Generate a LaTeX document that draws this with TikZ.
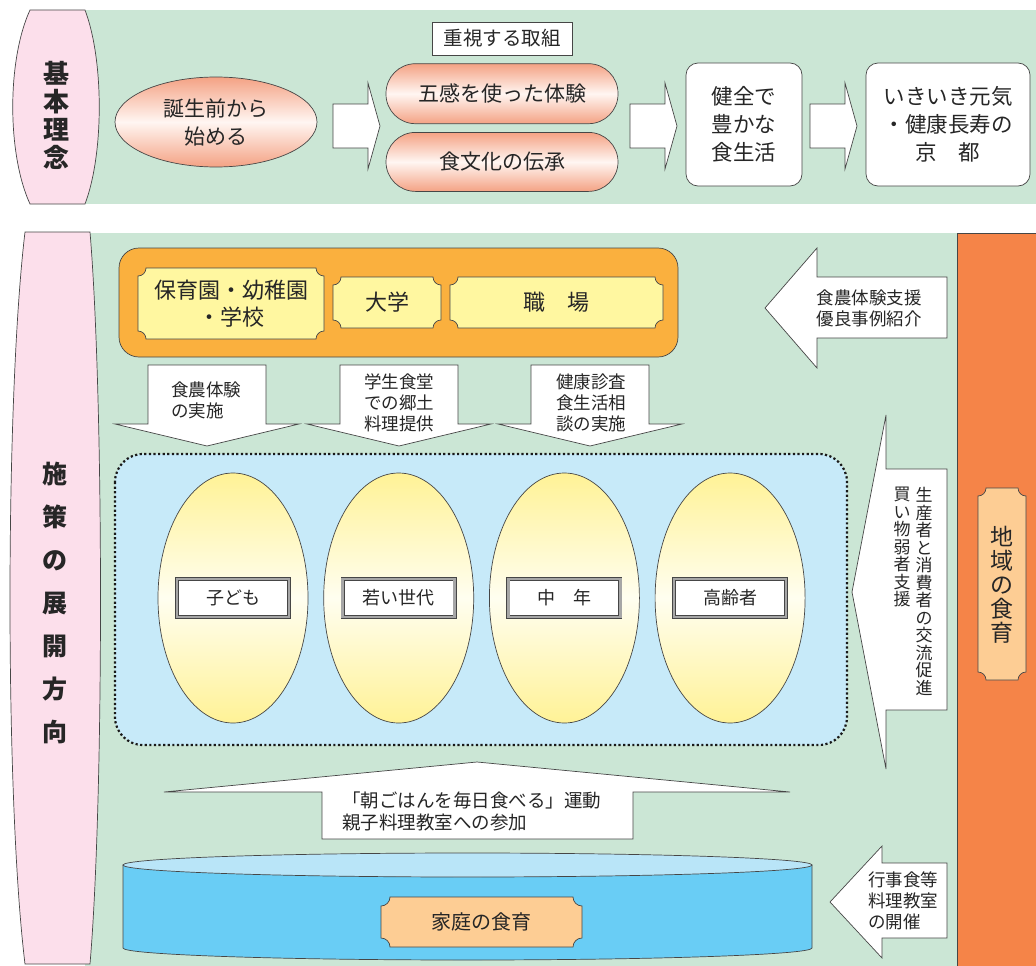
\documentclass[tikz,border=0pt]{standalone}
\usepackage{fontspec}
\setmainfont{Noto Sans CJK JP}
\usetikzlibrary{calc, positioning, shapes.geometric}

\definecolor{mint}{RGB}{203,230,213}
\definecolor{pinkbg}{RGB}{252,223,235}
\definecolor{salmonc}{RGB}{244,162,132}
\definecolor{salmonw}{RGB}{255,246,242}
\definecolor{schoolc}{RGB}{250,176,62}
\definecolor{plaquey}{RGB}{255,247,160}
\definecolor{plaqueo}{RGB}{253,205,148}
\definecolor{regionc}{RGB}{245,132,72}
\definecolor{skyc}{RGB}{199,234,249}
\definecolor{eggc}{RGB}{255,242,150}
\definecolor{eggw}{RGB}{255,254,240}
\definecolor{cylc}{RGB}{105,205,245}
\definecolor{cyltop}{RGB}{185,229,248}
\definecolor{linec}{RGB}{70,70,70}

% frame with concave corners: [style]{x1}{y1}{x2}{y2}{r}
\newcommand{\plaqueframe}[6][]{%
  \draw[#1] ({#2+#6},#3) -- ({#4-#6},#3)
    .. controls ({#4-#6},{#3+0.55*#6}) and ({#4-0.55*#6},{#3+#6}) .. (#4,{#3+#6})
    -- (#4,{#5-#6})
    .. controls ({#4-0.55*#6},{#5-#6}) and ({#4-#6},{#5-0.55*#6}) .. ({#4-#6},#5)
    -- ({#2+#6},#5)
    .. controls ({#2+#6},{#5-0.55*#6}) and ({#2+0.55*#6},{#5-#6}) .. (#2,{#5-#6})
    -- (#2,{#3+#6})
    .. controls ({#2+0.55*#6},{#3+#6}) and ({#2+#6},{#3+0.55*#6}) .. ({#2+#6},#3)
    -- cycle;}

\begin{document}
\begin{tikzpicture}[
      x=1pt, y=-1pt,
      line width=0.7pt,
      text=black!85,
      panel/.style = {fill=mint},
      pillar/.style = {fill=pinkbg, draw=linec},
      title/.style = {align=center, font=\bfseries\fontsize{26}{28}\selectfont},
      salmon/.style = {
          draw=linec,
          top color=salmonc, bottom color=salmonc, middle color=salmonw,
          font=\fontsize{21}{28}\selectfont,
          align=center,
          inner sep=0pt,
        },
      whitebox/.style = {
          draw=linec, fill=white,
          rounded corners=12pt,
          align=center,
          font=\fontsize{21.5}{28}\selectfont,
          minimum height=123pt,
          inner sep=0pt,
        },
      barrow/.style = {draw=linec, fill=white},
      note/.style = {align=left, font=\fontsize{17.5}{21}\selectfont, inner sep=0pt},
      vnote/.style = {align=center, font=\fontsize{17}{17.5}\selectfont, inner sep=0pt, anchor=north},
      plaque/.style = {draw=linec, fill=#1},
      ptext/.style = {align=center, font=\fontsize{22}{27}\selectfont},
      egg/.style = {
          ellipse, draw=linec,
          top color=eggc, bottom color=eggc, middle color=eggw,
          minimum width=150pt, minimum height=250pt,
        },
      agebox/.style = {
          draw=linec, double=black!35, double distance=2.5pt,
          fill=white,
          minimum width=112pt, minimum height=38pt,
          font=\fontsize{18}{20}\selectfont,
        },
    ]

    \useasboundingbox (0,0) rectangle (1036,966);

    % top panel
    \fill[panel] (85,10) rectangle (1036,204);
    \draw[pillar] (30,10) -- (85,10) .. controls (104,60) and (104,154) .. (85,204)
      -- (30,204) .. controls (7,154) and (7,60) .. (30,10) -- cycle;
    \node[title] (kihon) at (56,115) {基\\本\\理\\念};

    \node[salmon, ellipse, minimum width=202pt, minimum height=90pt] (tanjo) at (216,122)
      {誕生前から\\始める};
    \node[draw=linec, fill=white, minimum width=140pt, minimum height=33pt,
      font=\fontsize{19.5}{22}\selectfont] (jushi) at (502,38.5) {重視する取組};
    \node[salmon, rounded corners=29.5pt, minimum width=232pt, minimum height=60pt,
      below=8pt of jushi] (gokan) {五感を使った体験};
    \node[salmon, rounded corners=29.5pt, minimum width=232pt, minimum height=59pt,
      below=8pt of gokan] (bunka) {食文化の伝承};
    \node[whitebox, minimum width=116pt] (kenzen) at (744,124.5) {健全で\\豊かな\\食生活};
    \node[whitebox, minimum width=164pt] (kyoto) at (948,124.5) {いきいき元気\\・健康長寿の\\京　都};

    \foreach \x in {333, 630, 810} {
      \draw[barrow] (\x,104) -- ({\x+35},104) -- ({\x+35},83) -- ({\x+47},126)
        -- ({\x+35},169) -- ({\x+35},148) -- (\x,148) -- cycle;
    }

    % bottom panel
    \fill[panel] (85,233) rectangle (957,966);
    \draw[fill=regionc, draw=linec] (957,233) rectangle (1036,966);
    \draw[pillar] (25,232) -- (90,232) .. controls (104,400) and (104,800) .. (90,964)
      -- (25,964) .. controls (5,800) and (5,400) .. (25,232) -- cycle;
    \node[title, font=\bfseries\fontsize{25}{43}\selectfont] (shisaku) at (55,603)
      {施\\策\\の\\展\\開\\方\\向};

    \draw[draw=linec, fill=schoolc, rounded corners=20pt] (119,248) rectangle (678,357);
    \plaqueframe[plaque=plaquey]{138}{268}{324}{339}{8}
    \plaqueframe[plaque=plaquey]{333}{277}{441}{328}{8}
    \plaqueframe[plaque=plaquey]{450}{277}{663}{328}{8}
    \node[ptext] (hoiku) at (231,303.5) {保育園・幼稚園\\・学校};
    \node[ptext] (daigaku) at (387,302.5) {大学};
    \node[ptext] (shokuba) at (556.5,302.5) {職　場};

    \foreach \x in {207, 399, 590} {
      \draw[barrow] ({\x-59},365) -- ({\x+59},365) -- ({\x+59},424) -- ({\x+92},424)
        -- (\x,446) -- ({\x-92},424) -- ({\x-59},424) -- cycle;
    }
    \node[note] (tainou) at (206,400) {食農体験\\の実施};
    \node[note] (gakusei) at (399,403) {学生食堂\\での郷土\\料理提供};
    \node[note] (kenshin) at (591,403) {健康診査\\食生活相\\談の実施};

    \draw[barrow] (947,277) -- (817,277) -- (817,248) -- (765,308) -- (817,368)
      -- (817,338) -- (947,338) -- cycle;
    \node[note] (shien) at (869,308) {食農体験支援\\優良事例紹介};

    % generations
    \draw[fill=skyc, draw=black!90, line width=2.2pt, dash pattern=on 2.2pt off 2.4pt,
      rounded corners=28pt] (115,454) rectangle (847,745);
    \node[egg] (kodomo) at (233,598) {};
    \node[egg, right=15pt of kodomo] (wakai) {};
    \node[egg, right=15pt of wakai] (chunen) {};
    \node[egg, right=15pt of chunen] (koreisha) {};
    \foreach \n/\t in {kodomo/子ども, wakai/若い世代, chunen/中　年, koreisha/高齢者}
      \node[agebox] (\n-t) at (\n) {\t};

    \draw[barrow] (947,469) -- (886,469) -- (886,415) -- (852,592) -- (886,769)
      -- (886,710) -- (947,710) -- cycle;
    \node[vnote] (kouryu) at (924,487) {生\\産\\者\\と\\消\\費\\者\\の\\交\\流\\促\\進};
    \node[vnote] (kaimono) at (902,487) {買\\い\\物\\弱\\者\\支\\援};

    \plaqueframe[plaque=plaqueo]{978}{488}{1026}{680}{8}
    \node[align=center, font=\fontsize{23}{24}\selectfont] (chiiki) at (1002,585)
      {地\\域\\の\\食\\育};

    % home
    \draw[barrow] (322,839) -- (322,792) -- (164,792) -- (477,762) -- (790,792)
      -- (633,792) -- (633,839) -- cycle;
    \node[note, anchor=west, font=\fontsize{18.5}{22}\selectfont] (asagohan) at (342,811)
      {「朝ごはんを毎日食べる」運動\\親子料理教室への参加};

    \draw[draw=linec, fill=cylc] (123,865) -- (123,948)
      .. controls (123,954.6) and (277.2,960) .. (467.5,960)
      .. controls (657.8,960) and (812,954.6) .. (812,948) -- (812,865) -- cycle;
    \draw[draw=linec, fill=cyltop] (467.5,865) ellipse [x radius=344.5, y radius=12];
    \plaqueframe[plaque=plaqueo]{381}{897}{582}{947}{9}
    \node[font=\fontsize{20}{24}\selectfont] (katei) at (481.5,922) {家庭の食育};

    \draw[barrow] (947,863) -- (882,863) -- (882,846) -- (830,902) -- (882,958)
      -- (882,938) -- (947,938) -- cycle;
    \node[note] (gyouji) at (903,901) {行事食等\\料理教室\\の開催};

  \end{tikzpicture}
\end{document}
